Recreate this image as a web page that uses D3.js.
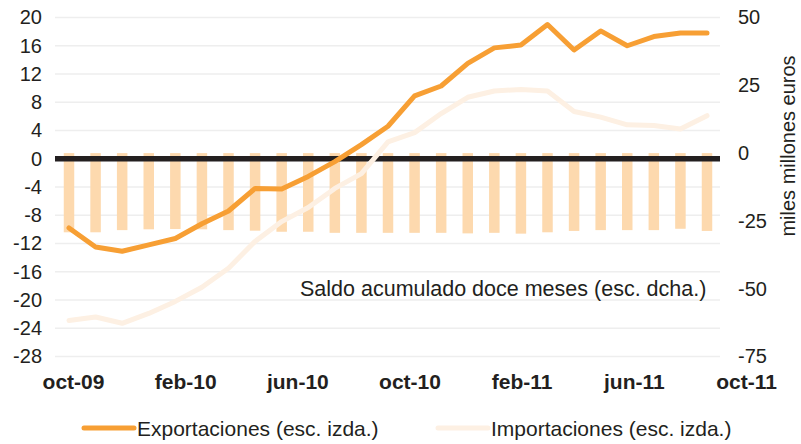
<!DOCTYPE html>
<html>
<head>
<meta charset="utf-8">
<script src="https://cdn.jsdelivr.net/npm/d3@7"></script>
<style>
  body { margin: 0; background: #fff; }
  svg { display: block; font-family: "Liberation Sans", Arial, sans-serif; }
  .axis text { fill: #231f20; }
</style>
</head>
<body>
<div id="chart"></div>
<script>
const months = ["oct-09","nov-09","dic-09","ene-10","feb-10","mar-10","abr-10","may-10","jun-10",
  "jul-10","ago-10","sep-10","oct-10","nov-10","dic-10","ene-11","feb-11","mar-11","abr-11",
  "may-11","jun-11","jul-11","ago-11","sep-11","oct-11"];
const tickLabels = ["oct-09","feb-10","jun-10","oct-10","feb-11","jun-11","oct-11"];
const leftTicks = [20,16,12,8,4,0,-4,-8,-12,-16,-20,-24,-28];
const rightTicks = [50,25,0,-25,-50,-75];

// % variación interanual (esc. izda.)
const exportaciones = [-9.8,-12.5,-13.1,-12.2,-11.3,-9.2,-7.4,-4.2,-4.3,-2.5,-0.4,2.0,4.6,
  8.9,10.3,13.5,15.7,16.1,19.0,15.4,18.1,16.0,17.3,17.8,17.8];
const importaciones = [-22.9,-22.4,-23.3,-21.9,-20.2,-18.2,-15.5,-11.7,-8.9,-6.9,-4.2,-2.1,2.4,
  3.7,6.4,8.7,9.6,9.8,9.6,6.7,5.9,4.8,4.7,4.2,6.1];
// saldo acumulado doce meses, miles de millones (esc. dcha.)
const saldo = [-29.2,-29.2,-28.4,-28.1,-28.0,-28.1,-28.4,-28.6,-29.0,-29.0,-29.4,-29.4,-29.4,
  -29.4,-29.4,-29.6,-29.4,-29.7,-29.2,-28.7,-28.4,-28.4,-28.4,-27.9,-28.7];

const width = 801, height = 444;
const plot = { left: 55, right: 720, top: 17.5, bottom: 356.5 };

const svg = d3.select("#chart").append("svg")
  .attr("width", width)
  .attr("height", height);

const x = d3.scalePoint().domain(months).range([69, 707]);
const xLabels = d3.scalePoint().domain(tickLabels).range([73, 746]);
const yL = d3.scaleLinear().domain([-28, 20]).range([plot.bottom, plot.top]);
const yR = d3.scaleLinear().domain([-75, 50]).range([plot.bottom, plot.top]);

// gridlines
svg.append("g")
  .selectAll("line")
  .data(leftTicks)
  .join("line")
  .attr("x1", plot.left)
  .attr("x2", plot.right)
  .attr("y1", d => yL(d))
  .attr("y2", d => yL(d))
  .attr("stroke", "#eeeeee")
  .attr("stroke-width", 1.5);

// bars (right scale)
const barW = 10.5;
svg.append("g")
  .selectAll("rect")
  .data(saldo)
  .join("rect")
  .attr("x", (d, i) => x(months[i]) - barW / 2)
  .attr("y", yR(0))
  .attr("width", barW)
  .attr("height", d => yR(d) - yR(0))
  .attr("fill", "#fdd9ae");

// zero line
svg.append("line")
  .attr("x1", plot.left)
  .attr("x2", plot.right)
  .attr("y1", yL(0))
  .attr("y2", yL(0))
  .attr("stroke", "#231f20")
  .attr("stroke-width", 5.5);

const line = d3.line()
  .x((d, i) => x(months[i]))
  .y(d => yL(d));

svg.append("path")
  .datum(importaciones)
  .attr("d", line)
  .attr("fill", "none")
  .attr("stroke", "#fdf0e3")
  .attr("stroke-width", 5)
  .attr("stroke-linejoin", "round")
  .attr("stroke-linecap", "round");

svg.append("path")
  .datum(exportaciones)
  .attr("d", line)
  .attr("fill", "none")
  .attr("stroke", "#f79f34")
  .attr("stroke-width", 5)
  .attr("stroke-linejoin", "round")
  .attr("stroke-linecap", "round");

// axes
const plain = d => String(d);

const leftAxis = svg.append("g")
  .attr("class", "axis")
  .attr("transform", "translate(42,0)")
  .call(d3.axisLeft(yL).tickValues(leftTicks).tickFormat(plain).tickSize(0).tickPadding(0));
leftAxis.select(".domain").remove();
leftAxis.selectAll("text").style("font-size", "20px");

const rightAxis = svg.append("g")
  .attr("class", "axis")
  .attr("transform", "translate(738,0)")
  .call(d3.axisRight(yR).tickValues(rightTicks).tickFormat(plain).tickSize(0).tickPadding(0));
rightAxis.select(".domain").remove();
rightAxis.selectAll("text").style("font-size", "20px");

const bottomAxis = svg.append("g")
  .attr("class", "axis")
  .attr("transform", "translate(0,374)")
  .call(d3.axisBottom(xLabels).tickSize(0).tickPadding(0));
bottomAxis.select(".domain").remove();
bottomAxis.selectAll("text")
  .style("font-size", "21px")
  .style("font-weight", "bold");

// right axis title
svg.append("text")
  .attr("transform", "translate(795,146) rotate(-90)")
  .attr("text-anchor", "middle")
  .style("font-size", "20px")
  .attr("fill", "#231f20")
  .text("miles millones euros");

// annotation
svg.append("text")
  .attr("x", 300)
  .attr("y", 296)
  .style("font-size", "21.5px")
  .attr("fill", "#231f20")
  .text("Saldo acumulado doce meses (esc. dcha.)");

// legend
const legend = [
  { label: "Exportaciones (esc. izda.)", color: "#f79f34", x: 84 },
  { label: "Importaciones (esc. izda.)", color: "#fdf0e3", x: 438 }
];
const lg = svg.append("g")
  .selectAll("g")
  .data(legend)
  .join("g")
  .attr("transform", d => `translate(${d.x},428)`);
lg.append("line")
  .attr("x1", 0)
  .attr("x2", 50)
  .attr("stroke", d => d.color)
  .attr("stroke-width", 5)
  .attr("stroke-linecap", "round");
lg.append("text")
  .attr("x", 53)
  .attr("y", 8)
  .style("font-size", "21px")
  .attr("fill", "#231f20")
  .text(d => d.label);
</script>
</body>
</html>
